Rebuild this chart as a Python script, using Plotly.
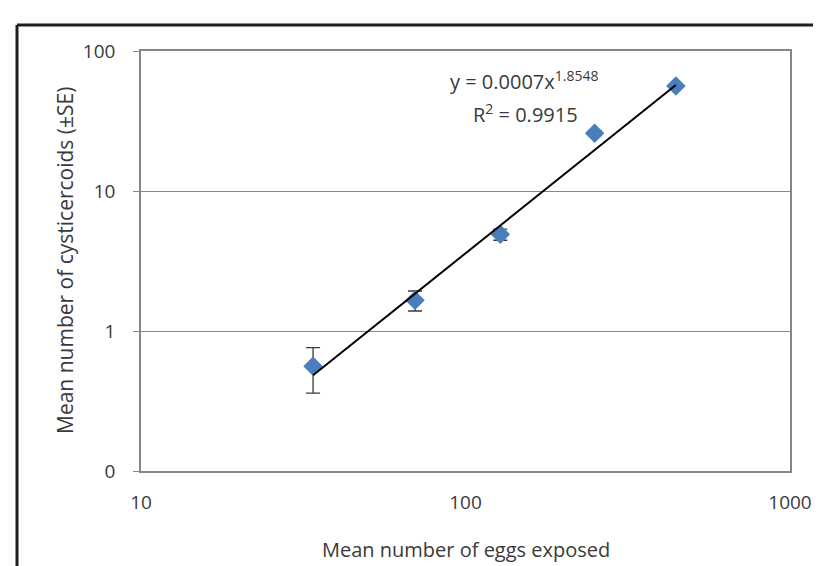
import plotly.graph_objects as go

# Data
eggs_exposed = [33.9, 69.9, 128.0, 250.0, 445.0]
mean_cysticercoids = [0.56, 1.66, 4.9, 25.9, 56.2]
se_values = [0.20, 0.27, 0.45, 1.0, 1.5]

# Power trendline coefficients shown on the chart
trend_a = 0.0007
trend_b = 1.8548
trend_r2 = 0.9915

y_tick_vals = [0.1, 1, 10, 100]
y_tick_text = ["0", "1", "10", "100"]
x_tick_vals = [10, 100, 1000]
x_tick_text = ["10", "100", "1000"]

FONT = "Open Sans"
TXT = "#3a3a3a"
GRID = "#868686"

trend_x = [min(eggs_exposed), max(eggs_exposed)]
trend_y = [trend_a * x ** trend_b for x in trend_x]

fig = go.Figure()
fig.add_trace(go.Scatter(
    x=eggs_exposed, y=mean_cysticercoids, mode="markers",
    marker=dict(symbol="diamond", size=15, color="#4A7EBB"),
    error_y=dict(type="data", array=se_values, visible=True,
                 color="#3a3a3a", thickness=1.3, width=7),
    showlegend=False,
))
fig.add_trace(go.Scatter(
    x=trend_x, y=trend_y, mode="lines",
    line=dict(color="#000000", width=2), showlegend=False,
))

W, H = 821, 566
L, R, T, B = 133, 39, 43, 103
pw, ph = W - L - R, H - T - B

def px(xp):
    return (xp - L) / pw

def py(yp):
    return (H - B - yp) / ph

fig.update_layout(
    width=W, height=H,
    margin=dict(l=L, r=R, t=T, b=B, pad=0),
    paper_bgcolor="white", plot_bgcolor="white",
    font=dict(family=FONT, color=TXT, size=19),
    xaxis=dict(
        type="log", range=[1, 3], tickvals=x_tick_vals, ticktext=x_tick_text,
        showgrid=False, zeroline=False, showline=True, mirror=True,
        linecolor=GRID, linewidth=1.5, ticks="", ticklabelstandoff=13,
        tickfont=dict(size=19, color=TXT, family=FONT),
    ),
    yaxis=dict(
        type="log", range=[-1, 2], tickvals=y_tick_vals, ticktext=y_tick_text,
        showgrid=True, gridcolor=GRID, gridwidth=1.3, zeroline=False,
        showline=True, mirror=True, linecolor=GRID, linewidth=1.5,
        ticks="outside", ticklen=6, tickcolor=GRID, tickwidth=1.3,
        ticklabelstandoff=14,
        tickfont=dict(size=19, color=TXT, family=FONT),
    ),
    annotations=[
        dict(xref="paper", yref="paper", x=0.5, y=py(541),
             text="Mean number of eggs exposed", showarrow=False,
             font=dict(size=20, color=TXT, family=FONT),
             xanchor="center", yanchor="middle"),
        dict(xref="paper", yref="paper", x=px(57), y=0.5,
             text="Mean number of cysticercoids (±SE)", showarrow=False,
             textangle=-90, font=dict(size=21, color=TXT, family=FONT),
             xanchor="center", yanchor="middle"),
        dict(xref="paper", yref="paper", x=px(516), y=py(73),
             text=f"y = {trend_a}x<sup>{trend_b}</sup>", showarrow=False,
             font=dict(size=20, color=TXT, family=FONT),
             xanchor="center", yanchor="middle"),
        dict(xref="paper", yref="paper", x=px(517), y=py(105),
             text=f"R<sup>2</sup> = {trend_r2}", showarrow=False,
             font=dict(size=20, color=TXT, family=FONT),
             xanchor="center", yanchor="middle"),
    ],
    shapes=[
        # x-axis crossing at y=1: tick mark at x=100
        dict(type="line", xref="x", yref="y", x0=100, x1=100,
             ysizemode="pixel", yanchor=1, y0=0, y1=-8,
             line=dict(color=GRID, width=1.3)),
        # outer frame (left and top edges)
        dict(type="line", xref="paper", yref="paper",
             x0=px(9), x1=px(830), y0=py(17), y1=py(17),
             line=dict(color="#1e1e1e", width=3)),
        dict(type="line", xref="paper", yref="paper",
             x0=px(9), x1=px(9), y0=py(17), y1=py(580),
             line=dict(color="#1e1e1e", width=3)),
    ],
)

fig.write_html("out.html")
